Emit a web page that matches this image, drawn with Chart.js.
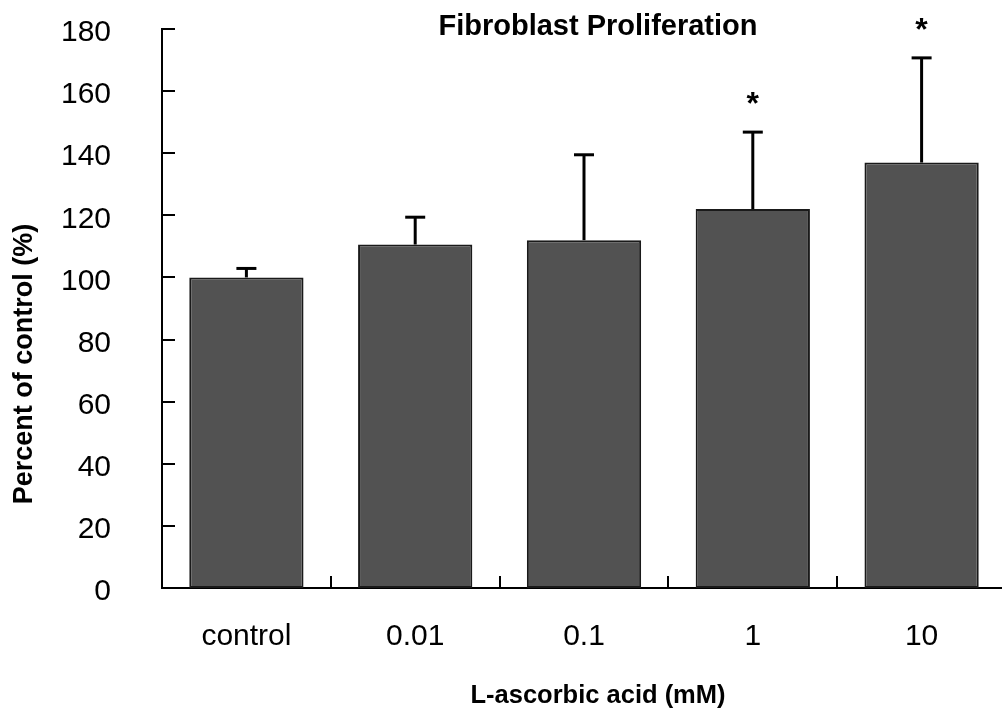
<!DOCTYPE html>
<html>
<head>
<meta charset="utf-8">
<script src="https://cdn.jsdelivr.net/npm/chart.js@4.4.0/dist/chart.umd.min.js"></script>
<style>
  html, body { margin: 0; padding: 0; background: #ffffff; }
  #wrap { width: 1002px; height: 711px; overflow: hidden; position: relative; }
  canvas { display: block; }
</style>
</head>
<body>
<div id="wrap"><canvas id="c" width="1008" height="711"></canvas></div>
<script>
// ---- data ----
const categories = ['control', '0.01', '0.1', '1', '10'];
const meanValues = [100, 110.6, 112.0, 122.0, 137.0];
const sdValues = [2.9, 8.8, 27.5, 24.8, 33.7];
const significant = [false, false, false, true, true];
const yTickValues = [0, 20, 40, 60, 80, 100, 120, 140, 160, 180];
const chartTitle = 'Fibroblast Proliferation';
const xAxisTitle = 'L-ascorbic acid (mM)';
const yAxisTitle = 'Percent of control (%)';

const FONT = '"Liberation Sans", Arial, Helvetica, sans-serif';

const decorPlugin = {
  id: 'decor',
  afterDatasetsDraw(chart) {
    const { ctx, chartArea, scales } = chart;
    const x = scales.x, y = scales.y;
    const meta = chart.getDatasetMeta(0);
    ctx.save();
    ctx.strokeStyle = '#000';
    ctx.fillStyle = '#000';
    // inside tick marks on y axis
    ctx.lineWidth = 2;
    yTickValues.forEach(v => {
      const py = Math.round(y.getPixelForValue(v));
      ctx.beginPath();
      ctx.moveTo(chartArea.left, py);
      ctx.lineTo(chartArea.left + 13, py);
      ctx.stroke();
    });
    // inside tick marks on x axis (category boundaries)
    for (let i = 0; i < categories.length - 1; i++) {
      const px = Math.round((x.getPixelForValue(i) + x.getPixelForValue(i + 1)) / 2);
      ctx.beginPath();
      ctx.moveTo(px, chartArea.bottom);
      ctx.lineTo(px, chartArea.bottom - 12);
      ctx.stroke();
    }
    // error bars (upper only) and significance marks
    meta.data.forEach((bar, i) => {
      const xc = bar.x;
      const yTop = y.getPixelForValue(meanValues[i]);
      const yCap = y.getPixelForValue(meanValues[i] + sdValues[i]);
      ctx.lineWidth = 3;
      ctx.beginPath();
      ctx.moveTo(xc, yTop);
      ctx.lineTo(xc, yCap);
      ctx.stroke();
      ctx.beginPath();
      ctx.moveTo(xc - 10, yCap);
      ctx.lineTo(xc + 10, yCap);
      ctx.stroke();
      if (significant[i]) {
        ctx.font = 'bold 32px ' + FONT;
        ctx.textAlign = 'center';
        ctx.textBaseline = 'alphabetic';
        ctx.fillText('*', xc, yCap - 18);
      }
    });
    ctx.restore();
  },
  afterDraw(chart) {
    const { ctx } = chart;
    ctx.save();
    ctx.fillStyle = '#000';
    ctx.textAlign = 'center';
    ctx.textBaseline = 'alphabetic';
    // chart title
    ctx.font = 'bold 29px ' + FONT;
    ctx.fillText(chartTitle, 598, 35);
    // x axis title
    ctx.font = 'bold 25.5px ' + FONT;
    ctx.fillText(xAxisTitle, 598, 703);
    // y axis title
    ctx.translate(32, 364);
    ctx.rotate(-Math.PI / 2);
    ctx.font = 'bold 27px ' + FONT;
    ctx.fillText(yAxisTitle, 0, 0);
    ctx.restore();
  }
};

new Chart(document.getElementById('c'), {
  type: 'bar',
  data: {
    labels: categories,
    datasets: [{
      data: meanValues,
      backgroundColor: '#525252',
      borderColor: '#1a1a1a',
      borderWidth: 2,
      borderSkipped: false,
      barPercentage: 0.677,
      categoryPercentage: 1.0
    }]
  },
  options: {
    responsive: false,
    animation: false,
    devicePixelRatio: 1,
    layout: { padding: { top: 29, right: 2, left: 0, bottom: 0 } },
    plugins: {
      legend: { display: false },
      title: { display: false },
      tooltip: { enabled: false }
    },
    scales: {
      x: {
        grid: { display: false, drawTicks: false },
        border: { display: true, color: '#000', width: 2 },
        ticks: {
          color: '#000',
          font: { family: FONT, size: 30 },
          padding: 31,
          maxRotation: 0
        },
        afterFit(s) { s.height = 123; s.paddingLeft = 0; s.paddingRight = 0; }
      },
      y: {
        min: 0,
        max: 180,
        grid: { display: false, drawTicks: false },
        border: { display: true, color: '#000', width: 2 },
        ticks: {
          stepSize: 20,
          color: '#000',
          font: { family: FONT, size: 30 },
          padding: 51,
          labelOffset: 4
        },
        afterFit(s) { s.width = 162; s.paddingTop = 0; s.paddingBottom = 0; }
      }
    }
  },
  plugins: [decorPlugin]
});
</script>
</body>
</html>
